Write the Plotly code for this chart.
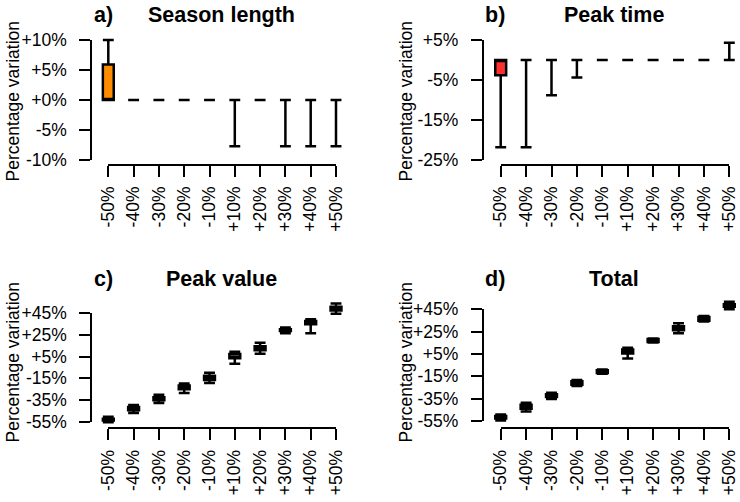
import plotly.graph_objects as go

W, H = 740, 502

# ---------------- data ----------------
categories = ["-50%", "-40%", "-30%", "-20%", "-10%", "+10%", "+20%", "+30%", "+40%", "+50%"]

# Season length (a)
a_low = [0, 0, 0, 0, 0, -7.7, 0, -7.7, -7.7, -7.7]
a_q1 = [0, 0, 0, 0, 0, 0, 0, 0, 0, 0]
a_med = [0, 0, 0, 0, 0, 0, 0, 0, 0, 0]
a_q3 = [5.9, 0, 0, 0, 0, 0, 0, 0, 0, 0]
a_up = [10, 0, 0, 0, 0, 0, 0, 0, 0, 0]

# Peak time (b)
b_low = [-21.8, -21.8, -8.8, -4.4, 0, 0, 0, 0, 0, 0]
b_q1 = [-3.8, 0, 0, 0, 0, 0, 0, 0, 0, 0]
b_med = [0, 0, 0, 0, 0, 0, 0, 0, 0, 0]
b_q3 = [0, 0, 0, 0, 0, 0, 0, 0, 0, 0]
b_up = [0, 0, 0, 0, 0, 0, 0, 0, 0, 4.3]

# Peak value (c)
c_low = [-55.6, -47.0, -37.8, -28.6, -19.4, -1.6, 7.6, 26.6, 26.6, 44.5]
c_q1 = [-54.0, -44.5, -35.2, -25.0, -16.5, 3.5, 11.0, 28.6, 34.8, 47.5]
c_med = [-53.3, -43.3, -34.0, -23.0, -15.0, 5.0, 12.7, 29.3, 36.5, 49.2]
c_q3 = [-52.2, -41.5, -32.5, -21.5, -12.5, 7.5, 14.5, 30.3, 38.0, 51.0]
c_up = [-50.5, -39.7, -30.2, -19.7, -9.9, 9.5, 17.8, 32.0, 39.5, 54.0]

# Total (d)
d_low = [-54.6, -46.6, -35.2, -23.6, -12.8, 0.9, 15.2, 23.6, 34.0, 45.1]
d_q1 = [-52.8, -44.0, -33.5, -22.6, -12.0, 5.5, 15.8, 26.2, 34.8, 47.3]
d_med = [-51.7, -42.2, -32.3, -21.0, -10.8, 7.0, 17.0, 28.0, 36.5, 48.4]
d_q3 = [-50.6, -40.5, -31.0, -19.4, -9.6, 9.0, 18.3, 29.8, 38.2, 49.6]
d_up = [-49.1, -38.7, -29.7, -18.4, -8.8, 10.5, 18.9, 32.4, 38.9, 51.7]

a_yticks = [-10, -5, 0, 5, 10]
a_ylabels = ["-10%", "-5%", "+0%", "+5%", "+10%"]
b_yticks = [-25, -15, -5, 5]
b_ylabels = ["-25%", "-15%", "-5%", "+5%"]
cd_yticks = [-55, -35, -15, 5, 25, 45]
cd_ylabels = ["-55%", "-35%", "-15%", "+5%", "+25%", "+45%"]

titles = ["Season length", "Peak time", "Peak value", "Total"]
letters = ["a)", "b)", "c)", "d)"]
box_colors = ["#FF8C00", "#FF3030", "white", "white"]

# ---------------- geometry (pixels) ----------------
panels = [
    dict(low=a_low, q1=a_q1, med=a_med, q3=a_q3, up=a_up, yt=a_yticks, yl=a_ylabels,
         yline=91, cat0=108.3, step=25.3, right=353, ttop=40, tbot=160, xline=164.8, top=35.2,
         title_x=221, title_y=15, letter_x=92, ylab_x=12.5, ylab_y=101),
    dict(low=b_low, q1=b_q1, med=b_med, q3=b_q3, up=b_up, yt=b_yticks, yl=b_ylabels,
         yline=482.5, cat0=500.7, step=25.4, right=740, ttop=40, tbot=160, xline=164.8, top=35.2,
         title_x=614, title_y=15, letter_x=483, ylab_x=405.5, ylab_y=101),
    dict(low=c_low, q1=c_q1, med=c_med, q3=c_q3, up=c_up, yt=cd_yticks, yl=cd_ylabels,
         yline=91, cat0=108.3, step=25.3, right=353, ttop=313.3, tbot=421.7, xline=428.3, top=297,
         title_x=221, title_y=279, letter_x=92, ylab_x=12.5, ylab_y=362),
    dict(low=d_low, q1=d_q1, med=d_med, q3=d_q3, up=d_up, yt=cd_yticks, yl=cd_ylabels,
         yline=482.5, cat0=500.7, step=25.4, right=740, ttop=309.3, tbot=421, xline=428.3, top=297,
         title_x=614, title_y=279, letter_x=483, ylab_x=405.5, ylab_y=362),
]


def px_x(p):
    return p / W


def px_y(p):
    return 1 - p / H


FONT = "Liberation Sans, Arial, sans-serif"
TICKFONT = dict(family=FONT, size=17.5, color="black")

fig = go.Figure()
layout = dict(
    width=W, height=H, margin=dict(l=0, r=0, t=0, b=0, autoexpand=False),
    paper_bgcolor="white", plot_bgcolor="rgba(0,0,0,0)", showlegend=False,
    boxmode="overlay", annotations=[],
)

n = len(categories)
for k, P in enumerate(panels):
    dx = 2 * k + 1      # data axes
    ax = 2 * k + 2      # decoration axes
    sx = "" if dx == 1 else str(dx)
    xd, yd = f"x{sx}", f"y{sx}"
    xa, ya = f"x{ax}", f"y{ax}"

    vtop, vbot = P["yt"][-1], P["yt"][0]
    ppv = (P["tbot"] - P["ttop"]) / (vtop - vbot)  # pixels per unit

    # data axes
    xr = [(P["yline"] - P["cat0"]) / P["step"], (P["right"] - P["cat0"]) / P["step"]]
    yr = [vbot - (P["xline"] - P["tbot"]) / ppv, vtop + (P["ttop"] - P["top"]) / ppv]
    layout[f"xaxis{sx}"] = dict(domain=[px_x(P["yline"]), px_x(P["right"])], range=xr,
                                visible=False, anchor=yd, fixedrange=True, automargin=False)
    layout[f"yaxis{sx}"] = dict(domain=[px_y(P["xline"]), px_y(P["top"])], range=yr,
                                visible=False, anchor=xd, fixedrange=True, automargin=False)

    # decoration axes (R-style detached axes)
    layout[f"xaxis{ax}"] = dict(
        domain=[px_x(P["cat0"]), px_x(P["cat0"] + (n - 1) * P["step"])],
        range=[0, n - 1], tickmode="array", tickvals=list(range(n)), ticktext=categories,
        tickangle=-90, showline=True, linecolor="black", linewidth=1.5,
        ticks="outside", ticklen=11, tickwidth=1.5, tickcolor="black",
        tickfont=TICKFONT, showgrid=False, zeroline=False, automargin=False,
        anchor="free", position=px_y(P["xline"]), ticklabelstandoff=3, fixedrange=True)
    layout[f"yaxis{ax}"] = dict(
        domain=[px_y(P["tbot"]), px_y(P["ttop"])],
        range=[vbot, vtop], tickmode="array", tickvals=P["yt"], ticktext=P["yl"],
        showline=True, linecolor="black", linewidth=1.5,
        ticks="outside", ticklen=11, tickwidth=1.5, tickcolor="black",
        tickfont=TICKFONT, showgrid=False, zeroline=False, automargin=False,
        anchor="free", position=px_x(P["yline"]), ticklabelstandoff=9, fixedrange=True)

    fig.add_trace(go.Scatter(x=[], y=[], xaxis=xa, yaxis=ya, hoverinfo="skip", showlegend=False))

    for i in range(n):
        fig.add_trace(go.Box(
            x=[i], q1=[P["q1"][i]], median=[P["med"][i]], q3=[P["q3"][i]],
            lowerfence=[P["low"][i]], upperfence=[P["up"][i]],
            width=0.43, whiskerwidth=1, boxpoints=False,
            fillcolor=box_colors[k] if i == 0 else "white",
            line=dict(color="black", width=2.5),
            xaxis=xd, yaxis=yd, hoverinfo="skip", showlegend=False))

    layout["annotations"] += [
        dict(text=titles[k], x=px_x(P["title_x"]), y=px_y(P["title_y"]), xref="paper", yref="paper",
             xanchor="center", yanchor="middle", showarrow=False,
             font=dict(family=FONT, size=21.5, color="black", weight="bold")),
        dict(text=letters[k], x=px_x(P["letter_x"]), y=px_y(P["title_y"]), xref="paper", yref="paper",
             xanchor="left", yanchor="middle", showarrow=False,
             font=dict(family=FONT, size=21.5, color="black", weight="bold")),
        dict(text="Percentage variation", x=px_x(P["ylab_x"]), y=px_y(P["ylab_y"]),
             xref="paper", yref="paper", xanchor="center", yanchor="middle", textangle=-90,
             showarrow=False, font=dict(family=FONT, size=17.5, color="black")),
    ]

fig.update_layout(**layout)
fig.write_html("out.html", config={"displayModeBar": False},
               post_script="document.body.style.margin='0px';")
